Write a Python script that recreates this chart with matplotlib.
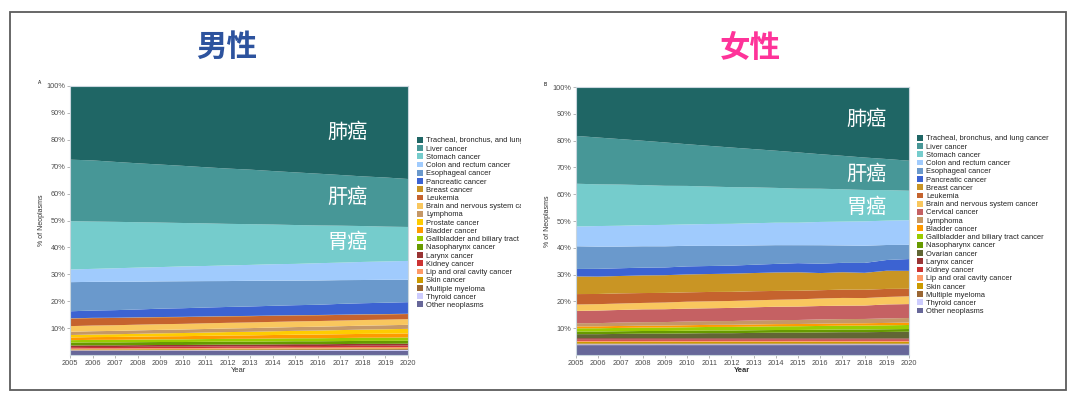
import matplotlib
matplotlib.use("Agg")
import numpy as np
import matplotlib.pyplot as plt
from matplotlib.patches import Rectangle
from matplotlib.transforms import Bbox, TransformedBbox

plt.rcParams["font.family"] = ["Liberation Sans", "Noto Sans CJK SC", "DejaVu Sans"]

years = list(range(2005, 2021))

# ── 男性 (share of neoplasms, %) ─────────────────────────────────────
m_other     = [1.50, 1.51, 1.51, 1.52, 1.53, 1.53, 1.54, 1.55, 1.55, 1.56, 1.57, 1.57, 1.58, 1.59, 1.59, 1.60]
m_thyroid   = [0.20, 0.21, 0.21, 0.22, 0.23, 0.23, 0.24, 0.25, 0.25, 0.26, 0.27, 0.27, 0.28, 0.29, 0.29, 0.30]
m_myeloma   = [0.20, 0.21, 0.21, 0.22, 0.23, 0.23, 0.24, 0.25, 0.25, 0.26, 0.27, 0.27, 0.28, 0.29, 0.29, 0.30]
m_skin      = [0.20, 0.21, 0.21, 0.22, 0.23, 0.23, 0.24, 0.25, 0.25, 0.26, 0.27, 0.27, 0.28, 0.29, 0.29, 0.30]
m_lip       = [0.30, 0.31, 0.31, 0.32, 0.33, 0.33, 0.34, 0.35, 0.35, 0.36, 0.37, 0.37, 0.38, 0.39, 0.39, 0.40]
m_kidney    = [0.50, 0.51, 0.51, 0.52, 0.53, 0.53, 0.54, 0.55, 0.55, 0.56, 0.57, 0.57, 0.58, 0.59, 0.59, 0.60]
m_larynx    = [0.60, 0.61, 0.61, 0.62, 0.63, 0.63, 0.64, 0.65, 0.65, 0.66, 0.67, 0.67, 0.68, 0.69, 0.69, 0.70]
m_naso      = [1.10, 1.10, 1.10, 1.10, 1.10, 1.10, 1.10, 1.10, 1.10, 1.10, 1.10, 1.10, 1.10, 1.10, 1.10, 1.10]
m_gall      = [0.90, 0.92, 0.94, 0.96, 0.98, 1.00, 1.02, 1.04, 1.06, 1.08, 1.10, 1.12, 1.14, 1.16, 1.18, 1.20]
m_bladder   = [1.00, 1.03, 1.07, 1.10, 1.13, 1.17, 1.20, 1.23, 1.27, 1.30, 1.33, 1.37, 1.40, 1.43, 1.47, 1.50]
m_prostate  = [0.90, 0.95, 1.01, 1.06, 1.11, 1.17, 1.22, 1.27, 1.33, 1.38, 1.43, 1.49, 1.54, 1.59, 1.65, 1.70]
m_lymphoma  = [1.20, 1.22, 1.24, 1.26, 1.28, 1.30, 1.32, 1.34, 1.36, 1.38, 1.40, 1.42, 1.44, 1.46, 1.48, 1.50]
m_brain     = [2.10, 2.10, 2.10, 2.10, 2.10, 2.10, 2.10, 2.10, 2.10, 2.10, 2.10, 2.10, 2.10, 2.10, 2.10, 2.10]
m_leukemia  = [2.80, 2.74, 2.68, 2.62, 2.56, 2.50, 2.44, 2.38, 2.32, 2.26, 2.20, 2.14, 2.08, 2.02, 1.96, 1.90]
m_breast    = [0.10, 0.10, 0.10, 0.10, 0.10, 0.10, 0.10, 0.10, 0.10, 0.10, 0.10, 0.10, 0.10, 0.10, 0.10, 0.10]
m_pancreas  = [2.6, 2.7, 2.8, 2.9, 3.1, 3.2, 3.3, 3.4, 3.5, 3.6, 3.7, 3.8, 4.0, 4.1, 4.2, 4.3]
m_esoph     = [10.8, 10.6, 10.5, 10.3, 10.1, 10.0, 9.8, 9.6, 9.5, 9.3, 9.1, 9.0, 8.8, 8.6, 8.5, 8.3]
m_colon     = [4.7, 4.8, 5.0, 5.2, 5.3, 5.5, 5.6, 5.8, 5.9, 6.1, 6.2, 6.4, 6.5, 6.7, 6.8, 7.0]
m_stomach   = [17.9, 17.5, 17.2, 16.8, 16.5, 16.1, 15.8, 15.4, 15.1, 14.7, 14.4, 14.0, 13.7, 13.3, 12.9, 12.6]
m_liver     = [22.8, 22.6, 22.2, 21.8, 21.5, 21.2, 20.8, 20.5, 20.2, 19.8, 19.5, 19.2, 18.8, 18.4, 18.2, 17.8]
m_lung      = [27.3, 27.5, 28.1, 28.6, 29.1, 29.6, 30.1, 30.6, 31.0, 31.5, 32.0, 32.5, 33.0, 33.5, 33.9, 34.5]

# ── 女性 ─────────────────────────────────────────────────────────────
f_other     = [3.7, 3.7, 3.7, 3.7, 3.7, 3.7, 3.7, 3.7, 3.7, 3.7, 3.7, 3.7, 3.7, 3.7, 3.7, 3.7]
f_thyroid   = [0.3, 0.3, 0.3, 0.3, 0.3, 0.3, 0.3, 0.3, 0.3, 0.3, 0.3, 0.3, 0.3, 0.3, 0.3, 0.3]
f_myeloma   = [0.3, 0.3, 0.3, 0.3, 0.3, 0.3, 0.3, 0.3, 0.3, 0.3, 0.3, 0.3, 0.3, 0.3, 0.3, 0.3]
f_skin      = [0.6, 0.6, 0.6, 0.6, 0.6, 0.6, 0.6, 0.6, 0.6, 0.6, 0.6, 0.6, 0.6, 0.6, 0.6, 0.6]
f_lip       = [0.4, 0.4, 0.4, 0.4, 0.4, 0.4, 0.4, 0.4, 0.4, 0.4, 0.4, 0.4, 0.4, 0.4, 0.4, 0.4]
f_kidney    = [0.5, 0.5, 0.5, 0.5, 0.5, 0.5, 0.5, 0.5, 0.5, 0.5, 0.5, 0.5, 0.5, 0.5, 0.5, 0.5]
f_larynx    = [0.50, 0.49, 0.49, 0.48, 0.47, 0.47, 0.46, 0.45, 0.45, 0.44, 0.43, 0.43, 0.42, 0.41, 0.41, 0.40]
f_ovarian   = [1.5, 1.5, 1.6, 1.7, 1.7, 1.8, 1.9, 1.9, 2.0, 2.1, 2.1, 2.2, 2.3, 2.3, 2.4, 2.5]
f_naso      = [1.0, 1.0, 1.0, 1.0, 1.0, 1.0, 1.0, 1.0, 1.0, 1.0, 1.0, 1.0, 1.0, 1.0, 1.0, 1.0]
f_gall      = [1.20, 1.22, 1.24, 1.26, 1.28, 1.30, 1.32, 1.34, 1.36, 1.38, 1.40, 1.42, 1.44, 1.46, 1.48, 1.50]
f_bladder   = [0.70, 0.71, 0.73, 0.74, 0.75, 0.77, 0.78, 0.79, 0.81, 0.82, 0.83, 0.85, 0.86, 0.87, 0.89, 0.90]
f_lymphoma  = [1.2, 1.2, 1.3, 1.3, 1.3, 1.4, 1.4, 1.4, 1.5, 1.5, 1.5, 1.6, 1.6, 1.6, 1.7, 1.7]
f_cervical  = [4.6, 4.7, 4.7, 4.8, 4.8, 4.8, 4.8, 4.9, 4.9, 5.0, 5.0, 5.0, 5.0, 5.0, 5.2, 5.2]
f_brain     = [2.4, 2.4, 2.4, 2.4, 2.5, 2.6, 2.6, 2.6, 2.6, 2.6, 2.7, 2.8, 2.9, 2.8, 2.8, 2.9]
f_leukemia  = [3.9, 3.8, 3.8, 3.7, 3.6, 3.5, 3.5, 3.4, 3.4, 3.3, 3.2, 3.1, 3.1, 3.1, 3.0, 2.8]
f_breast    = [6.6, 6.5, 6.5, 6.6, 6.6, 6.7, 6.7, 6.8, 6.8, 6.9, 6.9, 6.4, 6.5, 6.3, 6.8, 6.7]
f_pancreas  = [2.8, 2.9, 2.9, 2.9, 2.9, 3.0, 3.0, 3.0, 3.1, 3.2, 3.4, 3.5, 3.5, 3.7, 4.0, 4.4]
f_esoph     = [8.5, 8.3, 8.1, 8.0, 7.9, 7.7, 7.5, 7.4, 7.2, 7.0, 6.7, 6.9, 6.5, 6.4, 5.6, 5.3]
f_colon     = [7.4, 7.7, 7.8, 7.9, 8.0, 8.0, 8.2, 8.2, 8.3, 8.4, 8.4, 8.7, 8.9, 9.1, 9.1, 9.2]
f_stomach   = [16.0, 15.6, 15.4, 15.0, 14.6, 14.4, 14.0, 13.7, 13.4, 13.0, 12.7, 12.4, 12.1, 11.7, 11.4, 11.0]
f_liver     = [17.9, 17.5, 17.0, 16.6, 16.2, 15.6, 15.2, 14.8, 14.3, 13.9, 13.5, 12.9, 12.5, 12.1, 11.6, 11.2]
f_lung      = [18.3, 18.9, 19.5, 20.1, 20.7, 21.4, 22.0, 22.6, 23.2, 23.8, 24.4, 25.1, 25.7, 26.3, 26.9, 27.5]

colors = {
    "Tracheal, bronchus, and lung cancer": "#1f6665",
    "Liver cancer": "#479797",
    "Stomach cancer": "#75cccc",
    "Colon and rectum cancer": "#a0cbfd",
    "Esophageal cancer": "#6a99cc",
    "Pancreatic cancer": "#3c63d2",
    "Breast cancer": "#c99524",
    "Leukemia": "#c5632e",
    "Brain and nervous system cancer": "#f9c75e",
    "Cervical cancer": "#c56163",
    "Lymphoma": "#c59867",
    "Prostate cancer": "#fecc00",
    "Bladder cancer": "#fe9a00",
    "Gallbladder and biliary tract cancer": "#9acc00",
    "Nasopharynx cancer": "#679a00",
    "Ovarian cancer": "#616634",
    "Larynx cancer": "#993334",
    "Kidney cancer": "#cc3333",
    "Lip and oral cavity cancer": "#fe9966",
    "Skin cancer": "#cb9a00",
    "Multiple myeloma": "#9a6633",
    "Thyroid cancer": "#cdccfe",
    "Other neoplasms": "#676799",
}

men = [
    ("Other neoplasms", m_other), ("Thyroid cancer", m_thyroid),
    ("Multiple myeloma", m_myeloma), ("Skin cancer", m_skin),
    ("Lip and oral cavity cancer", m_lip), ("Kidney cancer", m_kidney),
    ("Larynx cancer", m_larynx), ("Nasopharynx cancer", m_naso),
    ("Gallbladder and biliary tract cancer", m_gall), ("Bladder cancer", m_bladder),
    ("Prostate cancer", m_prostate), ("Lymphoma", m_lymphoma),
    ("Brain and nervous system cancer", m_brain), ("Leukemia", m_leukemia),
    ("Breast cancer", m_breast), ("Pancreatic cancer", m_pancreas),
    ("Esophageal cancer", m_esoph), ("Colon and rectum cancer", m_colon),
    ("Stomach cancer", m_stomach), ("Liver cancer", m_liver),
    ("Tracheal, bronchus, and lung cancer", m_lung),
]
women = [
    ("Other neoplasms", f_other), ("Thyroid cancer", f_thyroid),
    ("Multiple myeloma", f_myeloma), ("Skin cancer", f_skin),
    ("Lip and oral cavity cancer", f_lip), ("Kidney cancer", f_kidney),
    ("Larynx cancer", f_larynx), ("Ovarian cancer", f_ovarian),
    ("Nasopharynx cancer", f_naso), ("Gallbladder and biliary tract cancer", f_gall),
    ("Bladder cancer", f_bladder), ("Lymphoma", f_lymphoma),
    ("Cervical cancer", f_cervical), ("Brain and nervous system cancer", f_brain),
    ("Leukemia", f_leukemia), ("Breast cancer", f_breast),
    ("Pancreatic cancer", f_pancreas), ("Esophageal cancer", f_esoph),
    ("Colon and rectum cancer", f_colon), ("Stomach cancer", f_stomach),
    ("Liver cancer", f_liver), ("Tracheal, bronchus, and lung cancer", f_lung),
]

W, H = 1080, 399
fig = plt.figure(figsize=(W / 100, H / 100), dpi=100)
fig.patch.set_facecolor("white")

# outer frame
fig.add_artist(Rectangle((10 / W, 1 - 390 / H), 1056 / W, 378 / H,
                         transform=fig.transFigure, fill=False,
                         ec="#5c5c5c", lw=1.3))


def fx(px):
    return px / W


def fy(py):
    return 1 - py / H


def panel(rect, groups, letter, letter_xy, bold_year):
    ax = fig.add_axes(rect)
    labels = [g[0] for g in groups]
    vals = np.array([g[1] for g in groups], dtype=float)
    vals = vals / vals.sum(axis=0) * 100  # position = fill
    ax.stackplot(years, *vals, labels=labels,
                 colors=[colors[l] for l in labels], linewidth=0)
    ax.set_xlim(2005, 2020)
    ax.set_ylim(0, 100)
    ax.set_xticks(years)
    ax.set_yticks(range(10, 101, 10))
    ax.set_yticklabels([f"{v}%" for v in range(10, 101, 10)])
    ax.tick_params(labelsize=5.3, labelcolor="#4d4d4d", length=2,
                   width=0.5, color="#999999", pad=1.5)
    for s in ax.spines.values():
        s.set_color("#c9d6de")
        s.set_linewidth(0.8)
    ax.set_ylabel("% of Neoplasms", fontsize=5, color="#333333", labelpad=1)
    ax.set_xlabel("Year", fontsize=5.5, color="#333333", labelpad=0,
                  fontweight="bold" if bold_year else "normal")
    fig.text(fx(letter_xy[0]), fy(letter_xy[1]), letter, fontsize=3.5,
             ha="center", va="center")
    return ax


ax1 = panel([fx(70), fy(355), (408 - 70) / W, (355 - 86) / H],
            men, "A", (40, 83), False)
ax2 = panel([fx(576), fy(355), (909 - 576) / W, (355 - 87) / H],
            women, "B", (545, 85), True)

cjk = ["Noto Sans CJK SC", "DejaVu Sans"]
for ax, pts in ((ax1, [("肺癌", 2017.3, 82.9), ("肝癌", 2017.3, 58.4), ("胃癌", 2017.3, 42.0)]),
                (ax2, [("肺癌", 2018.1, 87.7), ("肝癌", 2018.1, 67.2), ("胃癌", 2018.1, 55.2)])):
    for txt, x, y in pts:
        ax.text(x, y, txt, color="white", fontsize=14.5, family=cjk,
                ha="center", va="center", fontweight="light")

fig.text(fx(227), fy(47), "男性", family=cjk, fontsize=22, fontweight="bold",
         color="#2d539e", ha="center", va="center")
fig.text(fx(750), fy(48), "女性", family=cjk, fontsize=22, fontweight="bold",
         color="#fe3399", ha="center", va="center")


def legend(ax, x0, y0, clip_right):
    h, l = ax.get_legend_handles_labels()
    leg = fig.legend(h[::-1], l[::-1], loc="upper left",
                     bbox_to_anchor=(fx(x0), fy(y0)), frameon=False,
                     fontsize=5.4, handlelength=0.8, handleheight=0.8,
                     handletextpad=0.4, labelspacing=0.1, borderpad=0,
                     borderaxespad=0)
    clip = TransformedBbox(Bbox.from_extents(0, 0, fx(clip_right), 1),
                           fig.transFigure)
    for t in leg.get_texts():
        t.set_color("#222222")
        t.set_clip_box(clip)
        t.set_clip_on(True)
    return leg


legend(ax1, 417, 137, 521)
legend(ax2, 917, 135, 1068)

plt.savefig("out.png", dpi=100, facecolor="white")
